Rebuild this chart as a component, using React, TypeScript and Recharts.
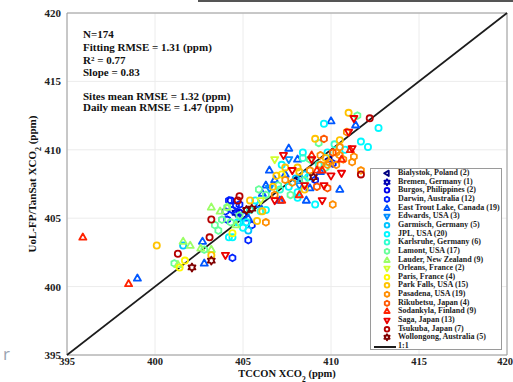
import React from 'react';
import { ScatterChart, Scatter, XAxis, YAxis, CartesianGrid, ReferenceLine, ReferenceArea, Label } from 'recharts';

const axisTicks = [395, 400, 405, 410, 415, 420];

const siteNames = [
  'Bialystok, Poland', 'Bremen, Germany', 'Burgos, Philippines', 'Darwin, Australia',
  'East Trout Lake, Canada', 'Edwards, USA', 'Garmisch, Germany', 'JPL, USA',
  'Karlsruhe, Germany', 'Lamont, USA', 'Lauder, New Zealand', 'Orleans, France',
  'Paris, France', 'Park Falls, USA', 'Pasadena, USA', 'Rikubetsu, Japan',
  'Sodankyla, Finland', 'Saga, Japan', 'Tsukuba, Japan', 'Wollongong, Australia',
];
const siteCounts = [2, 1, 2, 12, 19, 3, 5, 20, 6, 17, 9, 2, 4, 15, 19, 4, 9, 13, 7, 5];
const siteColors = [
  '#000080', '#0000b5', '#0000eb', '#0022ff', '#0057ff', '#008dff', '#00c3ff', '#00f8ff',
  '#2fffd0', '#65ff9a', '#9aff65', '#d0ff2f', '#fff800', '#ffc300', '#ff8d00', '#ff5700',
  '#ff2200', '#eb0000', '#b50000', '#800000',
];
const siteShapes = [
  'left', 'star', 'circle', 'hex', 'up', 'down', 'circle', 'circle', 'circle', 'hex',
  'up', 'down', 'circle', 'circle', 'hex', 'hex', 'up', 'down', 'circle', 'star',
];

const bialystok = [[408.2, 407.9], [409.9, 409.3]];
const bremen = [[404.6, 405.4]];
const burgos = [[404.3, 406.3], [404.8, 405.4]];
const darwin = [[404.2, 406.3], [404.4, 405.6], [404.1, 404.9], [404.6, 405.9], [405.3, 403.4], [404.4, 402.1], [405.0, 405.2], [404.0, 405.5], [409.1, 407.8], [410.1, 409.0], [405.5, 404.5], [404.8, 406.0]];
const eastTroutLake = [[399.0, 400.6], [402.7, 403.3], [402.8, 401.7], [406.1, 406.8], [406.3, 407.4], [407.6, 410.1], [408.8, 407.2], [410.0, 412.1], [406.8, 407.8], [407.4, 408.2], [405.9, 406.0], [409.4, 408.4], [408.1, 409.3], [406.5, 408.5], [411.4, 411.8], [410.5, 407.1], [408.6, 406.3], [405.3, 405.0], [407.1, 406.3]];
const edwards = [[407.6, 409.3], [406.5, 407.2], [408.2, 407.4]];
const garmisch = [[401.6, 403.0], [405.3, 404.1], [408.0, 407.9], [408.5, 408.2], [404.8, 404.7]];
const jpl = [[404.4, 403.6], [404.2, 403.6], [404.7, 404.7], [405.2, 404.7], [405.0, 404.3], [407.6, 407.3], [408.1, 406.9], [408.1, 406.5], [412.7, 411.6], [411.7, 410.6], [412.1, 410.2], [409.8, 409.8], [409.1, 406.0], [408.7, 408.0], [409.6, 411.9], [408.4, 409.8], [406.3, 405.6], [405.7, 406.3], [407.2, 408.9], [410.8, 410.0]];
const karlsruhe = [[408.4, 409.4], [407.1, 407.1], [406.0, 405.5], [409.3, 408.9], [405.4, 405.6], [410.2, 410.4]];
const lamont = [[401.1, 401.7], [402.8, 402.7], [403.8, 404.9], [403.4, 404.5], [403.6, 404.1], [404.1, 405.8], [411.5, 412.5], [409.3, 410.5], [408.5, 407.8], [404.8, 405.2], [407.7, 406.7], [406.3, 406.7], [407.0, 407.4], [409.7, 408.7], [408.8, 409.3], [404.3, 404.7], [405.9, 407.1]];
const lauder = [[401.6, 403.3], [403.2, 405.8], [404.1, 405.8], [401.3, 401.6], [403.2, 402.7], [402.0, 403.0], [403.7, 405.5], [402.6, 402.8], [404.6, 404.5]];
const orleans = [[406.8, 409.3], [406.0, 406.3]];
const paris = [[404.4, 403.9], [401.7, 401.9], [401.4, 401.4], [407.2, 408.2]];
const parkFalls = [[400.1, 403.0], [403.2, 402.3], [405.8, 404.8], [406.9, 408.1], [408.1, 408.7], [408.2, 408.4], [411.0, 412.7], [409.1, 410.8], [409.7, 409.4], [406.1, 405.5], [406.7, 407.3], [407.4, 408.7], [410.5, 410.7], [408.5, 407.1], [405.4, 406.3]];
const pasadena = [[406.3, 404.7], [407.4, 407.8], [406.8, 406.7], [410.9, 411.3], [410.5, 410.2], [410.3, 409.8], [410.5, 409.6], [409.4, 409.6], [410.7, 409.3], [411.2, 409.1], [409.4, 408.9], [409.8, 408.9], [410.3, 408.9], [410.1, 406.0], [411.3, 409.5], [409.9, 409.1], [408.8, 408.5], [407.8, 407.6], [411.7, 408.5]];
const rikubetsu = [[409.6, 410.8], [410.1, 409.8], [409.2, 407.3], [409.8, 407.2]];
const sodankyla = [[395.9, 403.6], [398.5, 400.2], [408.9, 409.6], [410.6, 409.3], [409.5, 408.5], [409.2, 408.5], [407.2, 406.3], [408.2, 406.7], [411.1, 410.0]];
const saga = [[404.0, 402.3], [411.3, 412.3], [411.0, 411.3], [411.2, 410.1], [410.6, 408.3], [410.0, 408.1], [409.6, 407.4], [409.5, 406.3], [408.9, 409.3], [407.3, 409.6], [408.5, 407.4], [406.8, 406.3], [407.8, 408.5]];
const tsukuba = [[403.1, 403.6], [403.2, 404.9], [401.3, 402.4], [404.8, 406.6], [404.7, 406.3], [412.2, 412.3], [411.7, 408.2]];
const wollongong = [[402.1, 401.4], [403.2, 401.9], [405.2, 405.6], [405.5, 405.7], [409.0, 408.0]];

const siteValues = [
  bialystok, bremen, burgos, darwin, eastTroutLake, edwards, garmisch, jpl, karlsruhe,
  lamont, lauder, orleans, paris, parkFalls, pasadena, rikubetsu, sodankyla, saga, tsukuba, wollongong,
];

const statLines = ['N=174', 'Fitting RMSE = 1.31 (ppm)', 'R2', 'Slope = 0.83', 'Sites mean RMSE = 1.32 (ppm)', 'Daily mean RMSE = 1.47 (ppm)'];

const SERIF = '"Liberation Serif", "Times New Roman", serif';

function Marker({ cx, cy, shape, color, r = 3.1, sw = 1.8 }: any) {
  if (cx == null || cy == null) return null;
  const common = { fill: 'none', stroke: color, strokeWidth: sw, strokeLinejoin: 'round' as const };
  const poly = (pts: number[][]) => <polygon points={pts.map((p) => `${p[0]},${p[1]}`).join(' ')} {...common} />;
  switch (shape) {
    case 'up':
      return poly([[cx, cy - r * 1.25], [cx + r * 1.15, cy + r * 0.75], [cx - r * 1.15, cy + r * 0.75]]);
    case 'down':
      return poly([[cx, cy + r * 1.25], [cx + r * 1.15, cy - r * 0.75], [cx - r * 1.15, cy - r * 0.75]]);
    case 'left':
      return poly([[cx - r * 1.25, cy], [cx + r * 0.75, cy - r * 1.15], [cx + r * 0.75, cy + r * 1.15]]);
    case 'hex': {
      const pts = [];
      for (let k = 0; k < 6; k++) {
        const a = (Math.PI / 3) * k + Math.PI / 6;
        pts.push([cx + r * 1.1 * Math.cos(a), cy + r * 1.1 * Math.sin(a)]);
      }
      return poly(pts);
    }
    case 'star': {
      const pts = [];
      for (let k = 0; k < 12; k++) {
        const a = (Math.PI / 6) * k - Math.PI / 2;
        const rr = k % 2 === 0 ? r * 1.3 : r * 0.75;
        pts.push([cx + rr * Math.cos(a), cy + rr * Math.sin(a)]);
      }
      return poly(pts);
    }
    default:
      return <circle cx={cx} cy={cy} r={r} {...common} />;
  }
}

const XLabel = (props: any) => {
  const vb = props.viewBox || {};
  return (
    <text x={vb.x + vb.width / 2} y={vb.y + 22} textAnchor="middle" fontFamily={SERIF} fontWeight="bold" fontSize={10.5} fill="#111">
      TCCON XCO<tspan baselineShift="sub" fontSize={7.5}>2</tspan> (ppm)
    </text>
  );
};

const YLabel = (props: any) => {
  const vb = props.viewBox || {};
  const x = vb.x + 36;
  const y = vb.y + vb.height / 2;
  return (
    <text x={x} y={y} transform={`rotate(-90, ${x}, ${y})`} textAnchor="middle" fontFamily={SERIF} fontWeight="bold" fontSize={11} fill="#111">
      UoL-FP/TanSat XCO<tspan baselineShift="sub" fontSize={8}>2</tspan> (ppm)
    </text>
  );
};

export default function App() {
  const tops = [28, 41, 54, 66, 90, 101];
  return (
    <div style={{ position: 'absolute', left: 0, top: 0, width: 513, height: 382, background: '#fff', overflow: 'hidden' }}>
      <ScatterChart width={513} height={382} margin={{ top: 13, right: 6, left: 0, bottom: 0 }}>
        <CartesianGrid stroke="#ececec" />
        <XAxis
          type="number" dataKey="x" domain={[395, 420]} ticks={axisTicks} height={27}
          tickLine={false} axisLine={false} tickSize={3} tickMargin={0}
          tick={{ fontFamily: SERIF, fontWeight: 'bold', fontSize: 10.5, fill: '#222' }}
          allowDataOverflow
        >
          <Label content={<XLabel />} />
        </XAxis>
        <YAxis
          type="number" dataKey="y" domain={[395, 420]} ticks={axisTicks} width={67}
          tickLine={false} axisLine={false} tickSize={6} tickMargin={0}
          tick={{ fontFamily: SERIF, fontWeight: 'bold', fontSize: 11, fill: '#222' }}
          allowDataOverflow
        >
          <Label content={<YLabel />} />
        </YAxis>
        <ReferenceArea x1={395} x2={420} y1={395} y2={420} fill="none" stroke="#9a9a9a" strokeWidth={1} ifOverflow="visible" />
        {siteValues.map((vals, i) => (
          <Scatter
            key={siteNames[i]}
            name={siteNames[i]}
            data={vals.map((v) => ({ x: v[0], y: v[1] }))}
            isAnimationActive={false}
            shape={(p: any) => <Marker cx={p.cx} cy={p.cy} shape={siteShapes[i]} color={siteColors[i]} />}
          />
        ))}
        <ReferenceLine segment={[{ x: 395, y: 395 }, { x: 420, y: 420 }]} stroke="#1c1c1c" strokeWidth={1.7} ifOverflow="visible" />
      </ScatterChart>

      <div style={{ position: 'absolute', left: 83, top: 0, fontFamily: SERIF, fontWeight: 'bold', fontSize: 11, color: '#111', lineHeight: '12px', whiteSpace: 'nowrap' }}>
        {statLines.map((s, i) => (
          <div key={i} style={{ position: 'absolute', left: 0, top: tops[i] }}>
            {s === 'R2' ? (<span>R<sup style={{ fontSize: 7, verticalAlign: 'top', position: 'relative', top: -1 }}>2</sup> = 0.77</span>) : s}
          </div>
        ))}
      </div>

      <div style={{ position: 'absolute', left: 370, top: 168, width: 132, height: 182, border: '1px solid #9a9a9a', background: '#fff', boxSizing: 'border-box', fontFamily: SERIF, fontWeight: 'bold', fontSize: 8, color: '#222' }}>
        {siteNames.map((n, i) => (
          <div key={n} style={{ position: 'absolute', left: 0, top: i * 8.65, height: 8.65, width: 130, whiteSpace: 'nowrap' }}>
            <svg width={24} height={9} style={{ position: 'absolute', left: 4, top: 0 }}>
              <Marker cx={12} cy={4.3} shape={siteShapes[i]} color={siteColors[i]} r={2.3} sw={1.9} />
            </svg>
            <span style={{ position: 'absolute', left: 27, top: 0, lineHeight: '8.65px' }}>{n} ({siteCounts[i]})</span>
          </div>
        ))}
        <div style={{ position: 'absolute', left: 0, top: 20 * 8.65, height: 8.65, width: 130 }}>
          <div style={{ position: 'absolute', left: 3, top: 4, width: 22, height: 1.6, background: '#1c1c1c' }} />
          <span style={{ position: 'absolute', left: 27, top: 0, lineHeight: '8.65px' }}>1:1</span>
        </div>
      </div>

      <div style={{ position: 'absolute', left: 198, top: 0, width: 315, height: 2, background: '#555' }} />
      <div style={{ position: 'absolute', left: 3, top: 342, fontFamily: '"Open Sans", sans-serif', fontSize: 17, color: '#9aa3b0' }}>r</div>
    </div>
  );
}
